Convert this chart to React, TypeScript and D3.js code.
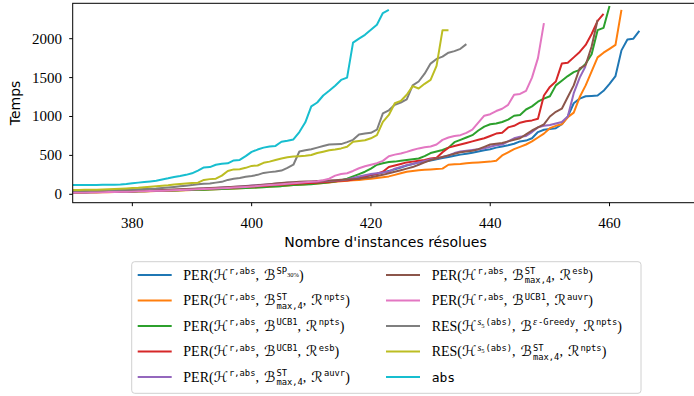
import React from "react";
import * as d3 from "d3";

const W = 694;
const H = 396;

// Plot frame (the right spine sits just outside the visible area)
const plotLeft = 72.7;
const plotRight = 699;
const plotTop = 3.3;
const plotBottom = 202.7;

const xDomain: [number, number] = [370, 475];
const yDomain: [number, number] = [-108, 2455];
const xTicks = [380, 400, 420, 440, 460];
const yTicks = [0, 500, 1000, 1500, 2000];

const xFirst = 370; // first instance count of every series

// Time needed to solve the n-th instance, n = 370, 371, ...
const perSp30 = [
  22, 23, 24, 25, 27, 28, 30, 31, 33, 35, 37, 39, 41, 43, 45, 47, 50, 52, 55, 58, 60, 63, 66, 69,
  72, 76, 80, 84, 88, 92, 96, 100, 105, 110, 115, 120, 126, 130, 136, 142, 148, 155, 160, 166, 172,
  180, 190, 200, 215, 230, 245, 260, 280, 300, 320, 345, 370, 390, 410, 420, 435, 450, 465, 480,
  495, 510, 520, 535, 550, 565, 580, 600, 615, 630, 650, 680, 690, 720, 800, 830, 840, 850, 900,
  1000, 1170, 1230, 1260, 1265, 1270, 1330, 1420, 1520, 1850, 1990, 2000, 2100,
];
const perStNpts = [
  20, 21, 22, 23, 24, 25, 27, 28, 30, 31, 33, 35, 37, 39, 41, 43, 45, 47, 50, 52, 55, 58, 60, 63,
  66, 69, 72, 75, 78, 82, 86, 90, 95, 100, 104, 108, 112, 118, 122, 128, 134, 140, 146, 152, 160,
  168, 175, 180, 185, 192, 200, 210, 220, 230, 250, 270, 290, 300, 310, 315, 320, 325, 330, 380,
  385, 390, 400, 405, 410, 415, 420, 430, 500, 540, 580, 610, 640, 680, 730, 780, 850, 880, 900,
  990, 1050, 1250, 1400, 1580, 1760, 1820, 1870, 1920, 2370,
];
const perUcbNpts = [
  25, 26, 27, 28, 29, 30, 31, 32, 33, 35, 37, 38, 40, 42, 44, 46, 48, 50, 52, 54, 56, 58, 60, 62,
  65, 68, 71, 74, 77, 80, 84, 88, 92, 96, 100, 105, 112, 118, 122, 126, 130, 138, 145, 155, 165,
  180, 200, 230, 260, 290, 330, 380, 400, 415, 420, 430, 440, 450, 460, 490, 530, 550, 570, 600,
  670, 700, 730, 760, 820, 870, 900, 910, 930, 960, 1010, 1020, 1090, 1130, 1190, 1230, 1260,
  1400, 1460, 1520, 1570, 1600, 1680, 1800, 2110, 2140, 2420,
];
const perUcbEsb = [
  25, 26, 27, 28, 30, 31, 33, 34, 36, 38, 40, 42, 44, 46, 48, 50, 53, 56, 59, 62, 65, 68, 71, 74,
  77, 80, 84, 88, 92, 96, 100, 104, 108, 113, 118, 123, 128, 133, 138, 142, 146, 150, 156, 162,
  168, 174, 178, 190, 200, 230, 250, 265, 290, 350, 370, 390, 410, 420, 430, 440, 460, 470, 540,
  600, 620, 640, 660, 680, 700, 720, 750, 780, 790, 860, 880, 920, 940, 950, 970, 1270, 1380,
  1450, 1680, 1690, 1760, 1830, 1920, 2060, 2230, 2320,
];
const perStAuvr = [
  24, 25, 26, 27, 28, 29, 31, 33, 35, 37, 39, 41, 43, 45, 48, 51, 54, 57, 60, 63, 66, 70, 74, 78,
  82, 86, 90, 95, 100, 106, 112, 118, 124, 130, 136, 142, 148, 152, 155, 158, 162, 165, 168, 172,
  176, 180, 190, 210, 230, 245, 260, 270, 280, 290, 330, 350, 375, 390, 410, 430, 450, 460, 480,
  500, 530, 550, 560, 570, 580, 590, 610, 630, 640, 680, 720, 740, 750, 800, 860, 880, 890, 910,
  930, 1000, 1300, 1500, 1650,
];
const perStEsb = [
  28, 29, 30, 31, 32, 34, 36, 38, 40, 42, 44, 46, 48, 50, 52, 55, 58, 61, 64, 67, 70, 73, 76, 80,
  84, 88, 92, 96, 100, 105, 110, 115, 122, 130, 138, 146, 152, 156, 160, 163, 166, 170, 174, 178,
  182, 186, 190, 195, 200, 210, 220, 235, 250, 270, 290, 310, 330, 350, 380, 410, 440, 460, 480,
  500, 520, 540, 550, 560, 580, 610, 640, 650, 660, 680, 700, 720, 770, 820, 860, 900, 1000, 1060,
  1100, 1250, 1400, 1620, 1660, 1900, 2240,
];
const perUcbAuvr = [
  22, 23, 24, 25, 26, 27, 28, 30, 32, 34, 36, 38, 40, 42, 44, 46, 49, 52, 55, 58, 61, 64, 67, 70,
  74, 78, 82, 86, 90, 95, 100, 106, 112, 118, 124, 130, 136, 142, 148, 154, 160, 168, 180, 200,
  240, 260, 270, 300, 335, 360, 380, 400, 430, 490, 510, 525, 545, 570, 590, 605, 615, 640, 700,
  730, 750, 760, 790, 830, 920, 1010, 1030, 1070, 1100, 1150, 1280, 1290, 1330, 1500, 1750, 2200,
];
const resGreedyNpts = [
  45, 46, 47, 48, 50, 52, 54, 56, 58, 60, 62, 65, 68, 72, 76, 82, 88, 95, 102, 110, 118, 128, 135,
  140, 150, 160, 185, 200, 210, 225, 235, 250, 275, 285, 292, 305, 340, 380, 550, 565, 580, 600,
  620, 640, 642, 645, 670, 700, 770, 780, 790, 830, 1040, 1080, 1150, 1180, 1220, 1400, 1450, 1550,
  1680, 1740, 1770, 1820, 1840, 1870, 1930,
];
const resStNpts = [
  55, 56, 57, 58, 60, 62, 65, 68, 72, 76, 80, 85, 92, 98, 105, 110, 115, 125, 132, 140, 145, 150,
  185, 195, 200, 240, 300, 320, 322, 340, 365, 370, 405, 420, 440, 460, 475, 485, 490, 495, 505,
  530, 548, 565, 575, 590, 610, 675, 685, 695, 720, 760, 930, 1020, 1170, 1200, 1280, 1390, 1360,
  1420, 1470, 1650, 2110, 2110,
];
const absTimes = [
  120, 120, 120, 120, 121, 122, 122, 123, 126, 132, 142, 150, 158, 166, 175, 190, 205, 222, 235,
  250, 270, 305, 345, 350, 380, 392, 398, 435, 442, 490, 545, 575, 600, 615, 622, 675, 688, 705,
  800, 925, 1130, 1180, 1270, 1330, 1395, 1470, 1500, 1950, 2000, 2050, 2115, 2180, 2330, 2370,
];

const seriesValues = [
  perSp30,
  perStNpts,
  perUcbNpts,
  perUcbEsb,
  perStAuvr,
  perStEsb,
  perUcbAuvr,
  resGreedyNpts,
  resStNpts,
  absTimes,
];

const seriesColors = [
  "#1f77b4",
  "#ff7f0e",
  "#2ca02c",
  "#d62728",
  "#9467bd",
  "#8c564b",
  "#e377c2",
  "#7f7f7f",
  "#bcbd22",
  "#17becf",
];

// Legend labels as math pieces: [kind, text, extra]
type Seg = [string, string, string?];
const hAbs: Seg[] = [["cal", "ℋ"], ["sup", "r,abs"]];
const hS5: Seg[] = [["cal", "ℋ"], ["supit", "s"], ["ssub", "5"], ["sup", "(abs)"]];
const bStMax: Seg[] = [["cal", "ℬ"], ["supsub", "ST", "max,4"]];
const bUcb: Seg[] = [["cal", "ℬ"], ["sup", "UCB1"]];
const comma: Seg = ["rm", ", "];
const rSup = (t: string): Seg[] => [["cal", "ℛ"], ["sup", t]];

const seriesLabels: Seg[][] = [
  [["rm", "PER("], ...hAbs, comma, ["cal", "ℬ"], ["sup", "SP"], ["ssub", "30%"], ["rm", ")"]],
  [["rm", "PER("], ...hAbs, comma, ...bStMax, comma, ...rSup("npts"), ["rm", ")"]],
  [["rm", "PER("], ...hAbs, comma, ...bUcb, comma, ...rSup("npts"), ["rm", ")"]],
  [["rm", "PER("], ...hAbs, comma, ...bUcb, comma, ...rSup("esb"), ["rm", ")"]],
  [["rm", "PER("], ...hAbs, comma, ...bStMax, comma, ...rSup("auvr"), ["rm", ")"]],
  [["rm", "PER("], ...hAbs, comma, ...bStMax, comma, ...rSup("esb"), ["rm", ")"]],
  [["rm", "PER("], ...hAbs, comma, ...bUcb, comma, ...rSup("auvr"), ["rm", ")"]],
  [["rm", "RES("], ...hS5, comma, ["cal", "ℬ"], ["supit", "ε"], ["sup", "-Greedy"], comma, ...rSup("npts"), ["rm", ")"]],
  [["rm", "RES("], ...hS5, comma, ...bStMax, comma, ...rSup("npts"), ["rm", ")"]],
  [["tt", "abs"]],
];

const fontRm = "'Liberation Serif', 'DejaVu Serif', serif";
const fontCal = "'DejaVu Serif', 'DejaVu Sans', serif";
const fontTt = "'DejaVu Sans Mono', 'Liberation Mono', monospace";
const fontSans = "'DejaVu Sans', sans-serif";

const rmSize = 14;
const calSize = 14.5;
const supSize = 8.8;
const ssubSize = 6.5;
const monoAdvance = 0.602;

function MathLabel({ segs, x, y }: { segs: Seg[]; x: number; y: number }) {
  const parts: React.ReactNode[] = [];
  let level = 0;
  let pendingDx = 0;
  segs.forEach((s, i) => {
    const [kind, text, extra] = s;
    const put = (key: string, t: string, lv: number, props: any, dx = 0) => {
      const total = dx + pendingDx;
      parts.push(
        <tspan key={key} dy={lv - level} dx={total || undefined} {...props}>
          {t}
        </tspan>
      );
      pendingDx = 0;
      level = lv;
    };
    if (kind === "rm") put(`${i}`, text, 0, { fontFamily: fontRm, fontSize: rmSize });
    else if (kind === "tt") put(`${i}`, text, 0, { fontFamily: fontTt, fontSize: 13 });
    else if (kind === "cal")
      put(`${i}`, text, 0, { fontFamily: fontCal, fontSize: calSize, fontStyle: "italic" });
    else if (kind === "sup")
      put(`${i}`, text, -5.5, { fontFamily: fontTt, fontSize: supSize }, 1);
    else if (kind === "supit")
      put(`${i}`, text, -5.5, { fontFamily: fontRm, fontSize: 10, fontStyle: "italic" }, 1);
    else if (kind === "ssub")
      put(`${i}`, text, -3, { fontFamily: fontRm, fontSize: ssubSize });
    else if (kind === "supsub") {
      put(`${i}a`, text, -5.5, { fontFamily: fontTt, fontSize: supSize }, 1);
      const back = text.length * monoAdvance * supSize;
      put(`${i}b`, extra || "", 3.5, { fontFamily: fontTt, fontSize: supSize }, -back);
      const diff = back - (extra || "").length * monoAdvance * supSize;
      if (diff > 0) pendingDx = diff;
    }
    if (kind === "rm" && text.startsWith(",")) pendingDx += 1.5;
  });
  return (
    <text x={x} y={y} fill="#000">
      {parts}
    </text>
  );
}

export default function App() {
  const x = d3.scaleLinear().domain(xDomain).range([plotLeft, plotRight]);
  const y = d3.scaleLinear().domain(yDomain).range([plotBottom, plotTop]);

  const line = d3
    .line<number>()
    .x((_, i) => x(xFirst + i))
    .y((d) => y(d));

  // legend layout
  const legLeft = 131.7;
  const legRight = 641;
  const legTop = 261.7;
  const legBottom = 393.3;
  const rowY = (r: number) => 275 + r * 25.5;
  const colLine = [137.7, 386];
  const colText = [183.3, 431.7];

  return (
    <svg width={W} height={H} style={{ position: "absolute", left: 0, top: 0 }}>
      <rect x={0} y={0} width={W} height={H} fill="#fff" />
      <defs>
        <clipPath id="plot-clip">
          <rect x={plotLeft} y={plotTop} width={plotRight - plotLeft} height={plotBottom - plotTop} />
        </clipPath>
      </defs>

      <g clipPath="url(#plot-clip)">
        {seriesValues.map((vals, i) => (
          <path
            key={i}
            d={line(vals) || ""}
            fill="none"
            stroke={seriesColors[i]}
            strokeWidth={2}
            strokeLinejoin="round"
          />
        ))}
      </g>

      {/* frame */}
      <rect
        x={plotLeft}
        y={plotTop}
        width={plotRight - plotLeft}
        height={plotBottom - plotTop}
        fill="none"
        stroke="#000"
        strokeWidth={1}
      />

      {/* x axis */}
      {xTicks.map((t) => (
        <g key={t}>
          <line x1={x(t)} x2={x(t)} y1={plotBottom} y2={plotBottom + 3.5} stroke="#000" strokeWidth={1} />
          <text x={x(t)} y={228.3} textAnchor="middle" fontFamily={fontRm} fontSize={15}>
            {t}
          </text>
        </g>
      ))}
      {/* y axis */}
      {yTicks.map((t) => (
        <g key={t}>
          <line x1={plotLeft - 3.5} x2={plotLeft} y1={y(t)} y2={y(t)} stroke="#000" strokeWidth={1} />
          <text x={62} y={y(t) + 5} textAnchor="end" fontFamily={fontRm} fontSize={15}>
            {t}
          </text>
        </g>
      ))}

      <text x={385.5} y={246.5} textAnchor="middle" fontFamily={fontSans} fontSize={14}>
        Nombre d'instances résolues
      </text>
      <text
        transform="translate(20,103) rotate(-90)"
        textAnchor="middle"
        fontFamily={fontSans}
        fontSize={14}
      >
        Temps
      </text>

      {/* legend */}
      <rect
        x={legLeft}
        y={legTop}
        width={legRight - legLeft}
        height={legBottom - legTop}
        rx={3}
        fill="#fff"
        fillOpacity={0.8}
        stroke="#d0d0d0"
        strokeWidth={1}
      />
      {seriesLabels.map((segs, i) => {
        const col = i < 5 ? 0 : 1;
        const row = i % 5;
        const cy = rowY(row);
        return (
          <g key={i}>
            <line
              x1={colLine[col]}
              x2={colLine[col] + 34}
              y1={cy}
              y2={cy}
              stroke={seriesColors[i]}
              strokeWidth={2}
            />
            <MathLabel segs={segs} x={colText[col]} y={cy + 4.5} />
          </g>
        );
      })}
    </svg>
  );
}
